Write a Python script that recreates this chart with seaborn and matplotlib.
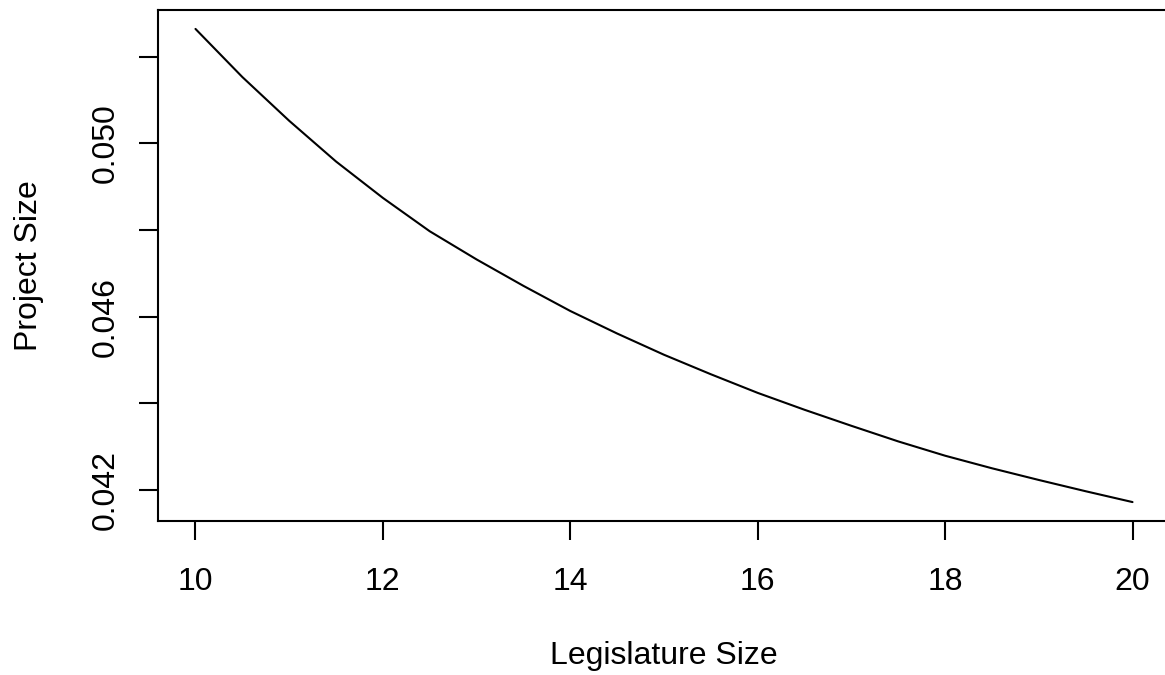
import pandas as pd
import matplotlib
matplotlib.use("Agg")
import matplotlib.pyplot as plt
import seaborn as sns

# values, every half unit
legislature_size = [10, 10.5, 11, 11.5, 12, 12.5, 13, 13.5, 14, 14.5, 15,
                    15.5, 16, 16.5, 17, 17.5, 18, 18.5, 19, 19.5, 20]
project_size = [0.05264, 0.05153, 0.05052, 0.04958, 0.04874, 0.04797, 0.04732,
                0.04671, 0.04613, 0.04561, 0.04512, 0.04467, 0.04424, 0.04385,
                0.04348, 0.04312, 0.04279, 0.04250, 0.04223, 0.04197, 0.04172]

x_ticks = [10, 12, 14, 16, 18, 20]
y_ticks = [0.042, 0.044, 0.046, 0.048, 0.050, 0.052]
y_tick_labels = ["0.042", "", "0.046", "", "0.050", ""]

sns.set_style("white")
plt.rcParams['font.family'] = ['Liberation Sans', 'DejaVu Sans']

df = pd.DataFrame({"Legislature Size": legislature_size, "Project Size": project_size})

fig = plt.figure(figsize=(11.65, 6.75), dpi=100)
ax = fig.add_axes([158 / 1165, (675 - 521) / 675, (1170 - 158) / 1165, 511 / 675])

sns.lineplot(data=df, x="Legislature Size", y="Project Size", ax=ax,
             color="black", linewidth=1.5)
ax.margins(x=0.04, y=0.04)

for side in ["left", "bottom", "top"]:
    ax.spines[side].set_visible(True)
    ax.spines[side].set_color("black")
    ax.spines[side].set_linewidth(1.5)
# the right edge of the box falls outside the picture
ax.spines["right"].set_visible(False)

ax.set_xticks(x_ticks)
ax.set_xticklabels([str(t) for t in x_ticks])
ax.set_yticks(y_ticks)
ax.set_yticklabels(y_tick_labels, rotation=90, va="center")

ax.tick_params(axis="both", direction="out", length=14, width=1.5,
               colors="black", labelsize=23, bottom=True, left=True)
ax.tick_params(axis="x", pad=19)
ax.tick_params(axis="y", pad=13)

ax.set_xlabel("Legislature Size", fontsize=23, color="black")
ax.set_ylabel("Project Size", fontsize=23, color="black")
ax.xaxis.set_label_coords(0.5, -0.235)
ax.yaxis.set_label_coords(-0.113, 0.5)

fig.savefig("out.png", dpi=100)
